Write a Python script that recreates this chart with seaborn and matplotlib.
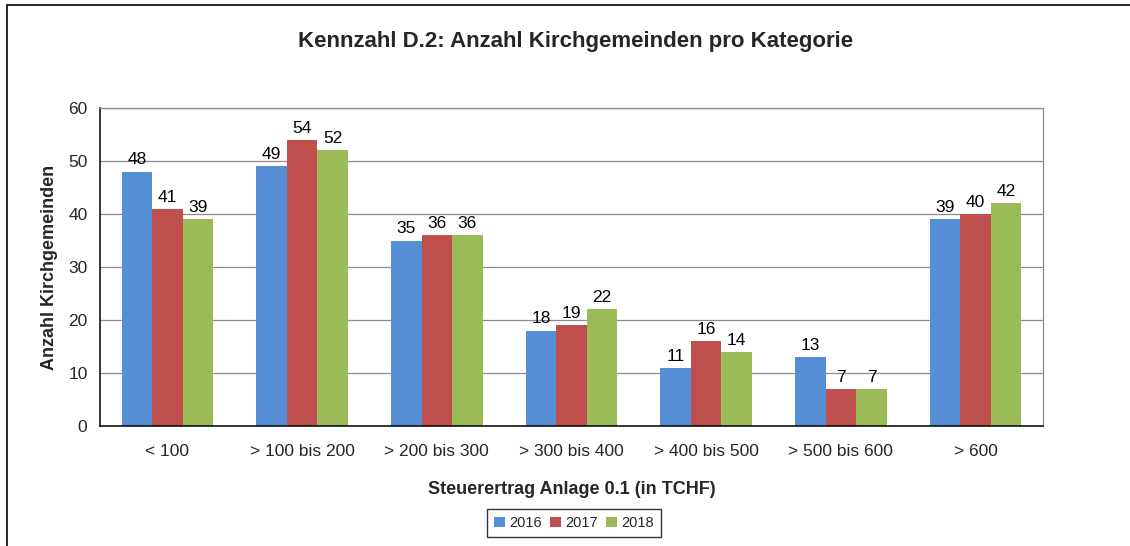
import pandas as pd
import seaborn as sns
import matplotlib.pyplot as plt
from matplotlib.patches import Rectangle

categories = ["< 100", "> 100 bis 200", "> 200 bis 300", "> 300 bis 400",
              "> 400 bis 500", "> 500 bis 600", "> 600"]
years = ["2016", "2017", "2018"]
values_2016 = [48, 49, 35, 18, 11, 13, 39]
values_2017 = [41, 54, 36, 19, 16, 7, 40]
values_2018 = [39, 52, 36, 22, 14, 7, 42]

colors = ["#558ED5", "#C0504D", "#9BBB59"]


def build_frame():
    rows = []
    for year, vals in zip(years, [values_2016, values_2017, values_2018]):
        for cat, v in zip(categories, vals):
            rows.append({"Kategorie": cat, "Jahr": year, "Anzahl": v})
    return pd.DataFrame(rows)


def main():
    df = build_frame()

    sns.set_style("white")
    plt.rcParams["font.family"] = ["Liberation Sans", "DejaVu Sans"]

    fig = plt.figure(figsize=(11.3, 5.46), dpi=100)
    ax = fig.add_axes([100 / 1130, 1 - 426 / 546, 943 / 1130, 318 / 546])

    sns.barplot(data=df, x="Kategorie", y="Anzahl", hue="Jahr",
                palette=colors, width=0.68, gap=0, saturation=1,
                edgecolor="none", ax=ax, legend=True)

    for container in ax.containers:
        ax.bar_label(container, padding=3, fontsize=12.5, color="black")

    ax.set_ylim(0, 60)
    ax.set_xlim(-0.5, len(categories) - 0.5)
    ax.set_yticks(range(0, 61, 10))
    ax.yaxis.grid(True, color="#8c8c8c", linewidth=0.9)
    ax.set_axisbelow(True)

    # category labels on minor ticks, tick marks at group boundaries
    ax.set_xticks([i - 0.5 for i in range(len(categories) + 1)])
    ax.set_xticklabels([])
    ax.set_xticks(range(len(categories)), minor=True)
    ax.set_xticklabels(categories, minor=True, fontsize=12.5)
    ax.tick_params(axis="x", which="major", direction="out", length=5,
                   width=1, color="black")
    ax.tick_params(axis="x", which="minor", length=0, pad=13)
    ax.tick_params(axis="y", direction="out", length=5, width=1,
                   color="black", labelsize=12.5, pad=4)

    for side in ["left", "bottom"]:
        ax.spines[side].set_color("black")
        ax.spines[side].set_linewidth(1.1)
    for side in ["top", "right"]:
        ax.spines[side].set_color("#8c8c8c")
        ax.spines[side].set_linewidth(0.9)

    ax.set_xlabel("Steuerertrag Anlage 0.1 (in TCHF)", fontsize=13,
                  fontweight="bold", labelpad=16)
    ax.set_ylabel("Anzahl Kirchgemeinden", fontsize=13, fontweight="bold",
                  labelpad=7)

    fig.text(576 / 1130, 1 - 42 / 546, "Kennzahl D.2: Anzahl Kirchgemeinden pro Kategorie",
             ha="center", va="center", fontsize=16, fontweight="bold")

    ax.legend(loc="center", bbox_to_anchor=(574 / 1130, 1 - 523 / 546),
              bbox_transform=fig.transFigure, ncol=3, fontsize=10.5,
              frameon=True, fancybox=False, edgecolor="black",
              handlelength=0.7, handleheight=0.7, handletextpad=0.3,
              columnspacing=0.6, borderpad=0.5)
    ax.get_legend().get_frame().set_linewidth(1.0)

    # outer chart frame (extends past the image on right and bottom)
    fig.patches.append(Rectangle((7 / 1130, -0.1), 1.2, 1 - 5 / 546 + 0.1,
                                 transform=fig.transFigure, fill=False,
                                 edgecolor="black", linewidth=1.2))

    fig.savefig("out.png", dpi=100)


if __name__ == "__main__":
    main()
